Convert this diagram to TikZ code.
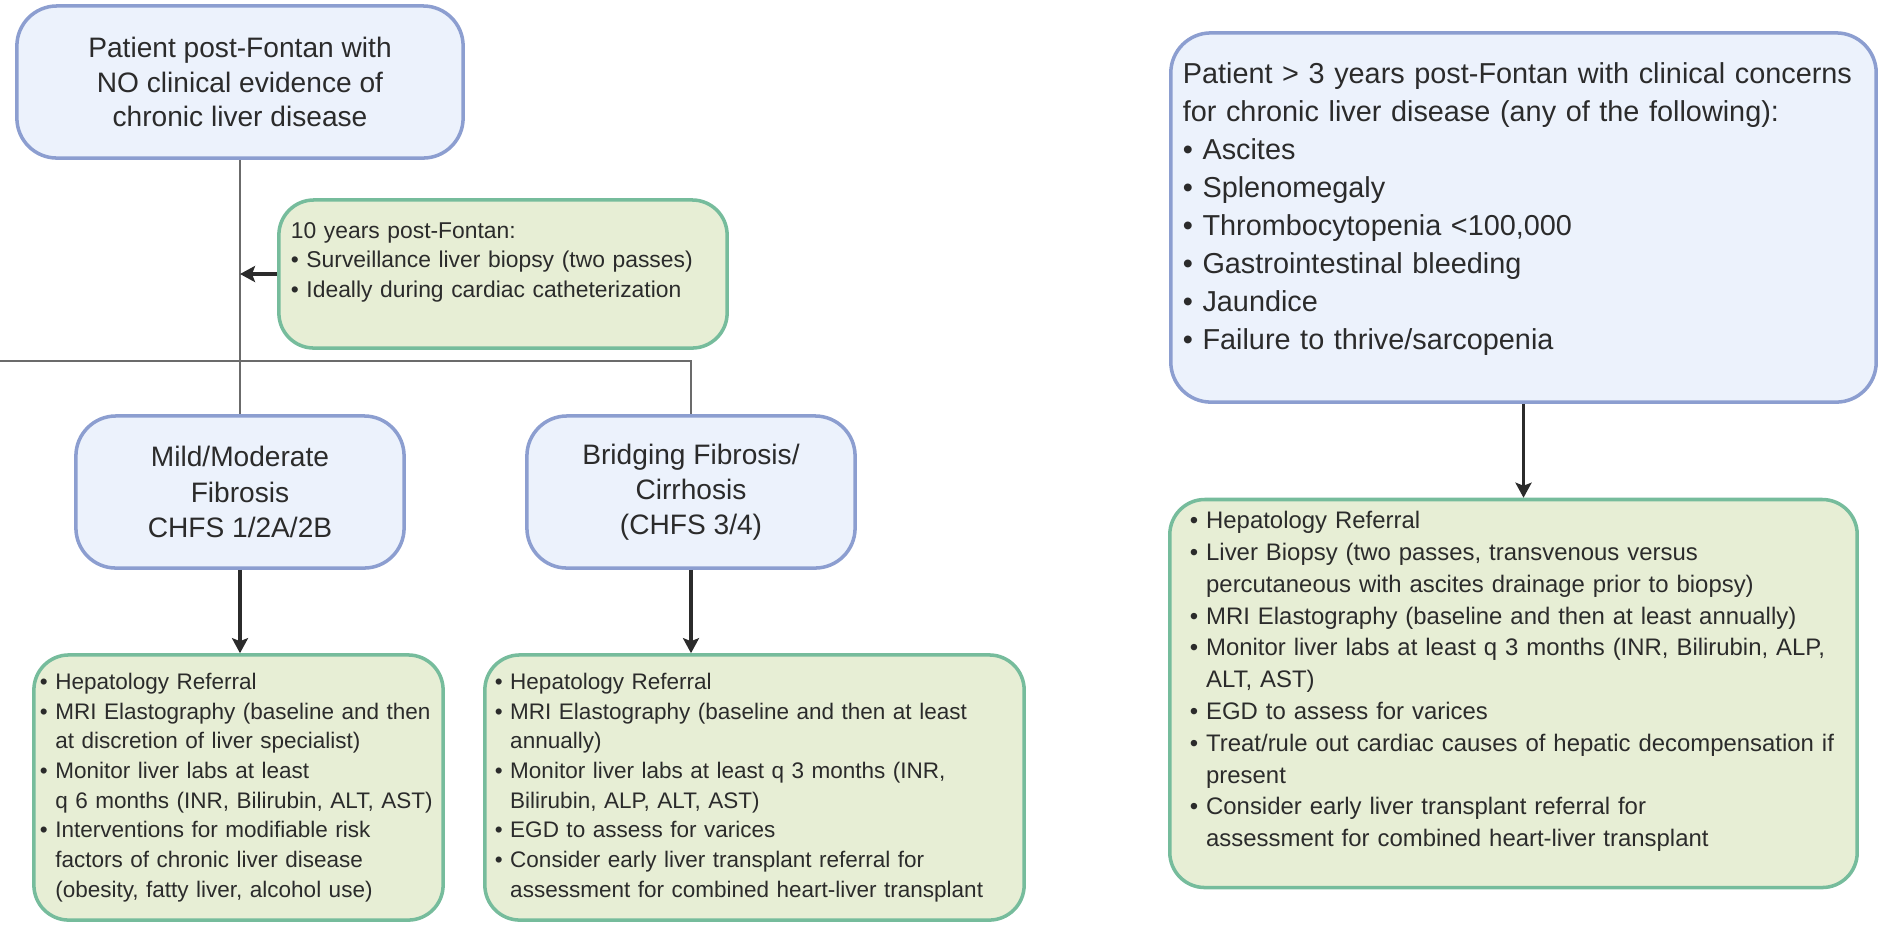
\documentclass[tikz,border=0pt]{standalone}
\usepackage{fontspec}
\setmainfont{Liberation Sans}
\usetikzlibrary{arrows.meta}

\definecolor{bluefill}{HTML}{ECF2FC}
\definecolor{blueline}{HTML}{8C9ED0}
\definecolor{greenfill}{HTML}{E7EED5}
\definecolor{greenline}{HTML}{76BC9C}
\definecolor{wire}{HTML}{6B6B6B}
\definecolor{ink}{HTML}{2B2B2B}

\newcommand{\bul}{\textbullet\ }
\newcommand{\ind}{\hphantom{\textbullet\ }}
\newcommand{\lift}[1]{\rule[-#1]{0pt}{#1}}

\tikzset{
  bluebox/.style={draw=blueline, fill=bluefill, line width=1pt, rounded corners=0.4cm, text=ink},
  greenbox/.style={draw=greenline, fill=greenfill, line width=1pt, rounded corners=0.35cm, align=left, text=ink},
  wireline/.style={draw=wire, line width=0.6pt},
  arrowline/.style={draw=ink, line width=0.9pt, -{Stealth[length=0.15cm,width=0.16cm,inset=0.03cm]}}
}

\begin{document}
\begin{tikzpicture}[x=0.01cm, y=-0.01cm]
	\useasboundingbox (0,0) rectangle (1882,926);
	
	% left branch
	\node[bluebox, align=center, minimum width=4.46cm, minimum height=1.52cm, font=\fontsize{8}{9.8}\selectfont] (nofib) at (240,82) {Patient post-Fontan with\\NO clinical evidence of\\chronic liver disease};
	\node[greenbox, minimum height=1.48cm, text width=4.24cm, inner xsep=0.12cm, font=\fontsize{6.5}{8.5}\selectfont] (biopsy) at (503,274) {10 years post-Fontan:\\\bul Surveillance liver biopsy (two passes)\\\bul Ideally during cardiac catheterization\lift{0.28cm}};
	
	\node[bluebox, align=center, minimum width=3.28cm, minimum height=1.52cm, font=\fontsize{8}{10}\selectfont] (mild) at (240,492) {Mild/Moderate\\Fibrosis\\CHFS 1/2A/2B};
	\node[bluebox, align=center, minimum width=3.28cm, minimum height=1.52cm, font=\fontsize{8}{10}\selectfont] (bridging) at (691,492) {Bridging Fibrosis/\\Cirrhosis\\(CHFS 3/4)};
	
	\node[greenbox, minimum height=2.65cm, text width=3.97cm, inner xsep=0.06cm, font=\fontsize{6.4}{8.45}\selectfont] (mildcare) at (238.5,787.5) {\bul Hepatology Referral\\\bul MRI Elastography (baseline and then\\\ind at discretion of liver specialist)\\\bul Monitor liver labs at least\\\ind q 6 months (INR, Bilirubin, ALT, AST)\\\bul Interventions for modifiable risk\\\ind factors of chronic liver disease\\\ind (obesity, fatty liver, alcohol use)};
	\node[greenbox, minimum height=2.65cm, text width=5.19cm, inner xsep=0.1cm, font=\fontsize{6.4}{8.45}\selectfont] (bridgecare) at (754.5,787.5) {\bul Hepatology Referral\\\bul MRI Elastography (baseline and then at least\\\ind annually)\\\bul Monitor liver labs at least q 3 months (INR,\\\ind Bilirubin, ALP, ALT, AST)\\\bul EGD to assess for varices\\\bul Consider early liver transplant referral for\\\ind assessment for combined heart-liver transplant};
	
	% right branch
	\node[greenbox, draw=blueline, fill=bluefill, rounded corners=0.4cm, minimum height=3.69cm, text width=6.81cm, inner xsep=0.12cm, font=\fontsize{8.2}{10.8}\selectfont] (concern) at (1523.5,217.5) {Patient > 3 years post-Fontan with clinical concerns\\for chronic liver disease (any of the following):\\\bul Ascites\\\bul Splenomegaly\\\bul Thrombocytopenia <100,000\\\bul Gastrointestinal bleeding\\\bul Jaundice\\\bul Failure to thrive/sarcopenia\lift{0.23cm}};
	\node[greenbox, minimum height=3.83cm, text width=6.47cm, inner xsep=0.2cm, font=\fontsize{6.8}{9.05}\selectfont] (rightcare) at (1513.5,693.5) {\bul Hepatology Referral\\\bul Liver Biopsy (two passes, transvenous versus\\\ind percutaneous with ascites drainage prior to biopsy)\\\bul MRI Elastography (baseline and then at least annually)\\\bul Monitor liver labs at least q 3 months (INR, Bilirubin, ALP,\\\ind ALT, AST)\\\bul EGD to assess for varices\\\bul Treat/rule out cardiac causes of hepatic decompensation if\\\ind present\\\bul Consider early liver transplant referral for\\\ind assessment for combined heart-liver transplant\lift{0.29cm}};
	
	% connectors
	\coordinate (edge) at (0,361);
	\draw[wireline] (nofib) -- (mild);
	\draw[wireline] (edge) -| (bridging.north);
	\draw[arrowline] (biopsy.west) -- (nofib.south |- biopsy.west);
	\draw[arrowline] (mild.south) -- (mild.south |- mildcare.north);
	\draw[arrowline] (bridging.south) -- (bridging.south |- bridgecare.north);
	\draw[arrowline] (concern.south) -- (concern.south |- rightcare.north);
	
\end{tikzpicture}
\end{document}
